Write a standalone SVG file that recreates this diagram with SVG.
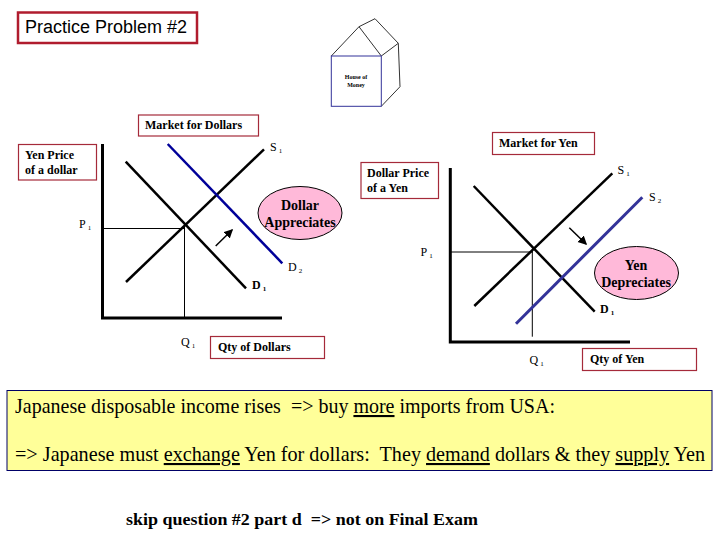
<svg xmlns="http://www.w3.org/2000/svg" width="720" height="540" viewBox="0 0 720 540">
<style>
text{font-family:"Liberation Serif","Times New Roman",serif;fill:#000;white-space:pre}
.b{font-weight:bold;font-size:12px}
.sym{font-size:12px}
.sub{font-size:7px}
.box{fill:#fff;stroke:#a52a3a;stroke-width:1.2}
.ax{fill:none;stroke:#000;stroke-width:3}
.cv{fill:none;stroke:#000;stroke-width:2.500}
.bl{fill:none;stroke:#000099;stroke-width:2.500}
.bl2{fill:none;stroke:#333399;stroke-width:3}
.th{fill:none;stroke:#000;stroke-width:1}
.el{fill:#ffb9d9;stroke:#000;stroke-width:1}
.big{font-size:21px}
.ho{fill:none;stroke:#333;stroke-width:1}
.ell{font-size:14px;font-weight:bold}
.ht{font-size:6px;font-weight:bold}
</style>
<defs><marker id="ah" markerWidth="7" markerHeight="7" refX="5" refY="3" orient="auto"><path d="M0 0L6 3L0 6Z" fill="#000"/></marker></defs>
<g id="title"><rect x="18" y="12.500" width="179" height="30.500" fill="#fff" stroke="#b01c2e" stroke-width="2.500"/><text x="25" y="33" style="font-family:'Liberation Sans',Arial,sans-serif;font-size:18px">Practice Problem #2</text></g>
<g id="house">
<path class="ho" d="M331.300 56L359 26.700L381.300 56M359 26.700L375 18.700L398.300 43.300L381.300 56M398.300 43.300L400 86.700L381.300 106.300"/>
<rect x="331.300" y="56" width="50" height="50.300" fill="#fff" stroke="#333399" stroke-width="1"/>
<text class="ht" x="356" y="79" text-anchor="middle">House of</text>
<text class="ht" x="356" y="87" text-anchor="middle">Money</text>
</g>
<g id="connectors">
<path class="ax" d="M102.500 144V318H282"/>
<path class="th" d="M103 228.500H185M184.500 226V318"/>
<path class="cv" d="M125.700 161.700L246 288.300"/>
<path class="cv" d="M126 282L264 149.300"/>
<path class="bl" d="M167.700 144L282.300 263.300"/>
<path d="M215.700 246L232 230" fill="none" stroke="#000" stroke-width="1.500" marker-end="url(#ah)"/>
<path class="ax" d="M450.300 168V342H630"/>
<path class="th" d="M451 252H533M532.300 250V336.700"/>
<path class="cv" d="M473.700 186L594.700 311.700"/>
<path class="cv" d="M474.300 306L612.300 173.300"/>
<path class="bl2" d="M516 323.700L642.300 197.300"/>
<path d="M569.300 227.700L586 244" fill="none" stroke="#000" stroke-width="1.500" marker-end="url(#ah)"/>
</g>
<g id="market-dollars"><rect class="box" x="138.500" y="115" width="120" height="21"/><text class="b" x="145" y="129">Market for Dollars</text></g>
<g id="yen-price"><rect class="box" x="18.500" y="144.500" width="78" height="35.500"/><text class="b" x="25" y="159">Yen Price</text><text class="b" x="25" y="174">of a dollar</text></g>
<g id="market-yen"><rect class="box" x="492.500" y="132.500" width="102" height="22"/><text class="b" x="499" y="147">Market for Yen</text></g>
<g id="dollar-price"><rect class="box" x="361" y="162.500" width="77.500" height="36"/><text class="b" x="367" y="177">Dollar Price</text><text class="b" x="367" y="192">of a Yen</text></g>
<g id="qty-dollars"><rect class="box" x="210.500" y="336.500" width="114" height="22"/><text class="b" x="218" y="351">Qty of Dollars</text></g>
<g id="qty-yen"><rect class="box" x="582.500" y="348.500" width="114" height="22"/><text class="b" x="590" y="363">Qty of Yen</text></g>
<g id="appreciates"><ellipse class="el" cx="300" cy="213" rx="42" ry="26.500"/><text class="ell" x="300" y="210" text-anchor="middle">Dollar</text><text class="ell" x="300" y="227" text-anchor="middle">Appreciates</text></g>
<g id="depreciates"><ellipse class="el" cx="636.500" cy="273" rx="42" ry="26.500"/><text class="ell" x="636" y="270" text-anchor="middle">Yen</text><text class="ell" x="636" y="287" text-anchor="middle">Depreciates</text></g>
<g id="labels">
<text class="sym" x="270" y="151">S<tspan class="sub" dx="2" dy="2">1</tspan></text>
<text class="sym" x="79" y="228">P<tspan class="sub" dx="2" dy="2">1</tspan></text>
<text class="sym" x="288" y="271">D<tspan class="sub" dx="2" dy="2">2</tspan></text>
<text class="sym" x="252" y="289" style="font-weight:bold">D<tspan class="sub" dx="2" dy="2">1</tspan></text>
<text class="sym" x="181" y="346">Q<tspan class="sub" dx="2" dy="2">1</tspan></text>
<text class="sym" x="617.500" y="174">S<tspan class="sub" dx="2" dy="2">1</tspan></text>
<text class="sym" x="649" y="201">S<tspan class="sub" dx="2" dy="2">2</tspan></text>
<text class="sym" x="420.500" y="255.500">P<tspan class="sub" dx="2" dy="2">1</tspan></text>
<text class="sym" x="600" y="312.500" style="font-weight:bold">D<tspan class="sub" dx="2" dy="2">1</tspan></text>
<text class="sym" x="529.500" y="363.500">Q<tspan class="sub" dx="2" dy="2">1</tspan></text>
</g>
<g id="note"><rect x="7" y="390.500" width="705" height="80" fill="#ffff99" stroke="#000066" stroke-width="1"/>
<text class="big" x="15" y="413" textLength="540" lengthAdjust="spacingAndGlyphs">Japanese disposable income rises  =&gt; buy <tspan text-decoration="underline">more</tspan> imports from USA:</text>
<text class="big" x="15" y="461" textLength="690" lengthAdjust="spacingAndGlyphs">=&gt; Japanese must <tspan text-decoration="underline">exchange</tspan> Yen for dollars:  They <tspan text-decoration="underline">demand</tspan> dollars &amp; they <tspan text-decoration="underline">supply</tspan> Yen</text></g>
<g id="skip"><text x="126" y="525" textLength="352" lengthAdjust="spacingAndGlyphs" style="font-size:17.500px;font-weight:bold">skip question #2 part d  =&gt; not on Final Exam</text></g>
</svg>
